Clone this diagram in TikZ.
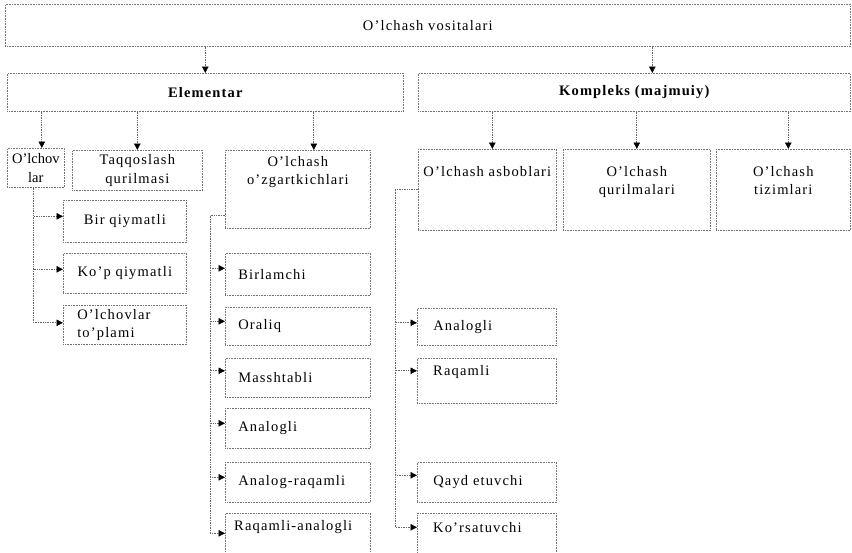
\documentclass[tikz,border=0pt]{standalone}
\usepackage{fontspec}
\setmainfont{Liberation Serif}[LetterSpace=8]
\usetikzlibrary{arrows.meta}
\newcommand\diagfs{\fontsize{14.5}{18.5}\selectfont}
\begin{document}
\begin{tikzpicture}[x=1pt,y=-1pt,
  box/.style={draw=black!55, densely dotted, line width=0.6pt, anchor=north west,
              inner sep=0pt, font=\diagfs, align=center},
  bold/.style={font=\diagfs\bfseries},
  lbl/.style={inner sep=0pt, font=\diagfs, align=center},
  leftbox/.style={box, align=left, text width=#1},
  conn/.style={draw=black!60, densely dotted, line width=0.7pt},
  arr/.style={conn, -{Triangle[length=6.5pt,width=6.5pt,color=black]}}]
\path[use as bounding box] (0,0) rectangle (852,552);
\clip (0,0) rectangle (852,552);

% top level
\node[box, minimum width=845, minimum height=42] (top) at (5,4) {O'lchash vositalari};
\node[box, bold, minimum width=396, minimum height=38] (ele) at (7,73) {Elementar};
\node[box, bold, minimum width=432, minimum height=38] (kom) at (418,73) {Kompleks (majmuiy)};

% second level, elementary branch
\node[box, minimum width=57, minimum height=39,
      font=\diagfs\addfontfeature{LetterSpace=0}] (olv) at (7,148) {O'lchov\\lar};
\node[box, minimum width=130, minimum height=40] (taq) at (72,150) {Taqqoslash\\qurilmasi};
\node[box, minimum width=145, minimum height=78] (ozg) at (225,150) {};
\node[lbl, anchor=north] (ozgT) at ([yshift=-6pt]ozg.north) {O'lchash\\o'zgartkichlari};

% second level, complex branch
\node[box, minimum width=138, minimum height=81] (asb) at (418,149) {};
\node[lbl, anchor=north] (asbT) at ([yshift=-17pt]asb.north) {O'lchash asboblari};
\node[box, minimum width=147, minimum height=81] (qur) at (563,149) {};
\node[lbl, anchor=north] (qurT) at ([yshift=-17pt]qur.north) {O'lchash\\qurilmalari};
\node[box, minimum width=134, minimum height=81] (tiz) at (716,149) {};
\node[lbl, anchor=north] (tizT) at ([yshift=-17pt]tiz.north) {O'lchash\\tizimlari};

% measures
\node[box, minimum width=123, minimum height=42] (bir) at (63,200) {Bir qiymatli};
\node[box, minimum width=123, minimum height=40] (kop) at (63,253) {Ko'p qiymatli};
\node[leftbox=95, inner xsep=14pt, minimum width=123, minimum height=39] (tpl) at (63,305) {O'lchovlar\\to'plami};

% converters
\begin{scope}[every node/.append style={leftbox=119, inner xsep=13pt, minimum width=145}]
\node[minimum height=42] (c1) at (225,253) {Birlamchi};
\node[minimum height=38] (c2) at (225,307) {Oraliq};
\node[minimum height=39] (c3) at (225,358) {Masshtabli};
\node[minimum height=40] (c4) at (225,408) {Analogli};
\node[minimum height=40] (c5) at (225,462) {Analog-raqamli};
\node[minimum height=50] (c6) at (225,513) {};
\end{scope}
\node[lbl, anchor=west] (c6T) at ([xshift=9pt,yshift=11pt]c6.west) {Raqamli-analogli};

% instruments
\begin{scope}[every node/.append style={leftbox=107, inner xsep=16pt, minimum width=139}]
\node[minimum height=37] (a1) at (417,308) {Analogli};
\node[minimum height=45] (a2) at (417,358) {};
\node[minimum height=40] (a3) at (417,462) {Qayd etuvchi};
\node[minimum height=50] (a4) at (417,513) {};
\end{scope}
\node[lbl, anchor=west] (a2T) at ([xshift=16pt,yshift=8.5pt]a2.west) {Raqamli};
\node[lbl, anchor=west] (a4T) at ([xshift=16pt,yshift=11pt]a4.west) {Ko'rsatuvchi};

% links from the root
\draw[arr] (ele.north |- top.south) -- (ele.north);
\draw[arr] ([xshift=18pt]kom.north |- top.south) -- ([xshift=18pt]kom.north);

% links below the elementary box
\draw[arr] ([xshift=6pt]olv.north |- ele.south) -- ([xshift=6pt]olv.north);
\draw[arr] (taq.north |- ele.south) -- (taq.north);
\draw[arr] ([xshift=16pt]ozg.north |- ele.south) -- ([xshift=16pt]ozg.north);

% links below the complex box
\draw[arr] ([xshift=5pt]asb.north |- kom.south) -- ([xshift=5pt]asb.north);
\draw[arr] (qur.north |- kom.south) -- (qur.north);
\draw[arr] ([xshift=5pt]tiz.north |- kom.south) -- ([xshift=5pt]tiz.north);

% measures tree
\coordinate (mtop) at ([xshift=-2pt]olv.south);
\draw[arr] (mtop) |- ([yshift=5pt]bir.west);
\draw[arr] (mtop) |- ([yshift=4pt]kop.west);
\draw[arr] (mtop) |- ([yshift=2pt]tpl.west);

% converters tree
\coordinate (cj) at ([yshift=13pt]ozg.south west);
\coordinate (ct) at ([xshift=-15pt]cj);
\draw[conn] (cj) -- (ct);
\foreach \n/\s in {c1/6, c2/5, c3/7, c4/5, c5/5, c6/5}
  \draw[arr] (ct) |- ([yshift=\s pt]\n.west);

% instruments tree
\coordinate (at) at ([xshift=-23pt]asb.west);
\draw[conn] (asb.west) -- (at);
\foreach \n/\s in {a1/4, a2/10, a3/7, a4/11}
  \draw[arr] (at) |- ([yshift=\s pt]\n.west);
\end{tikzpicture}
\end{document}
